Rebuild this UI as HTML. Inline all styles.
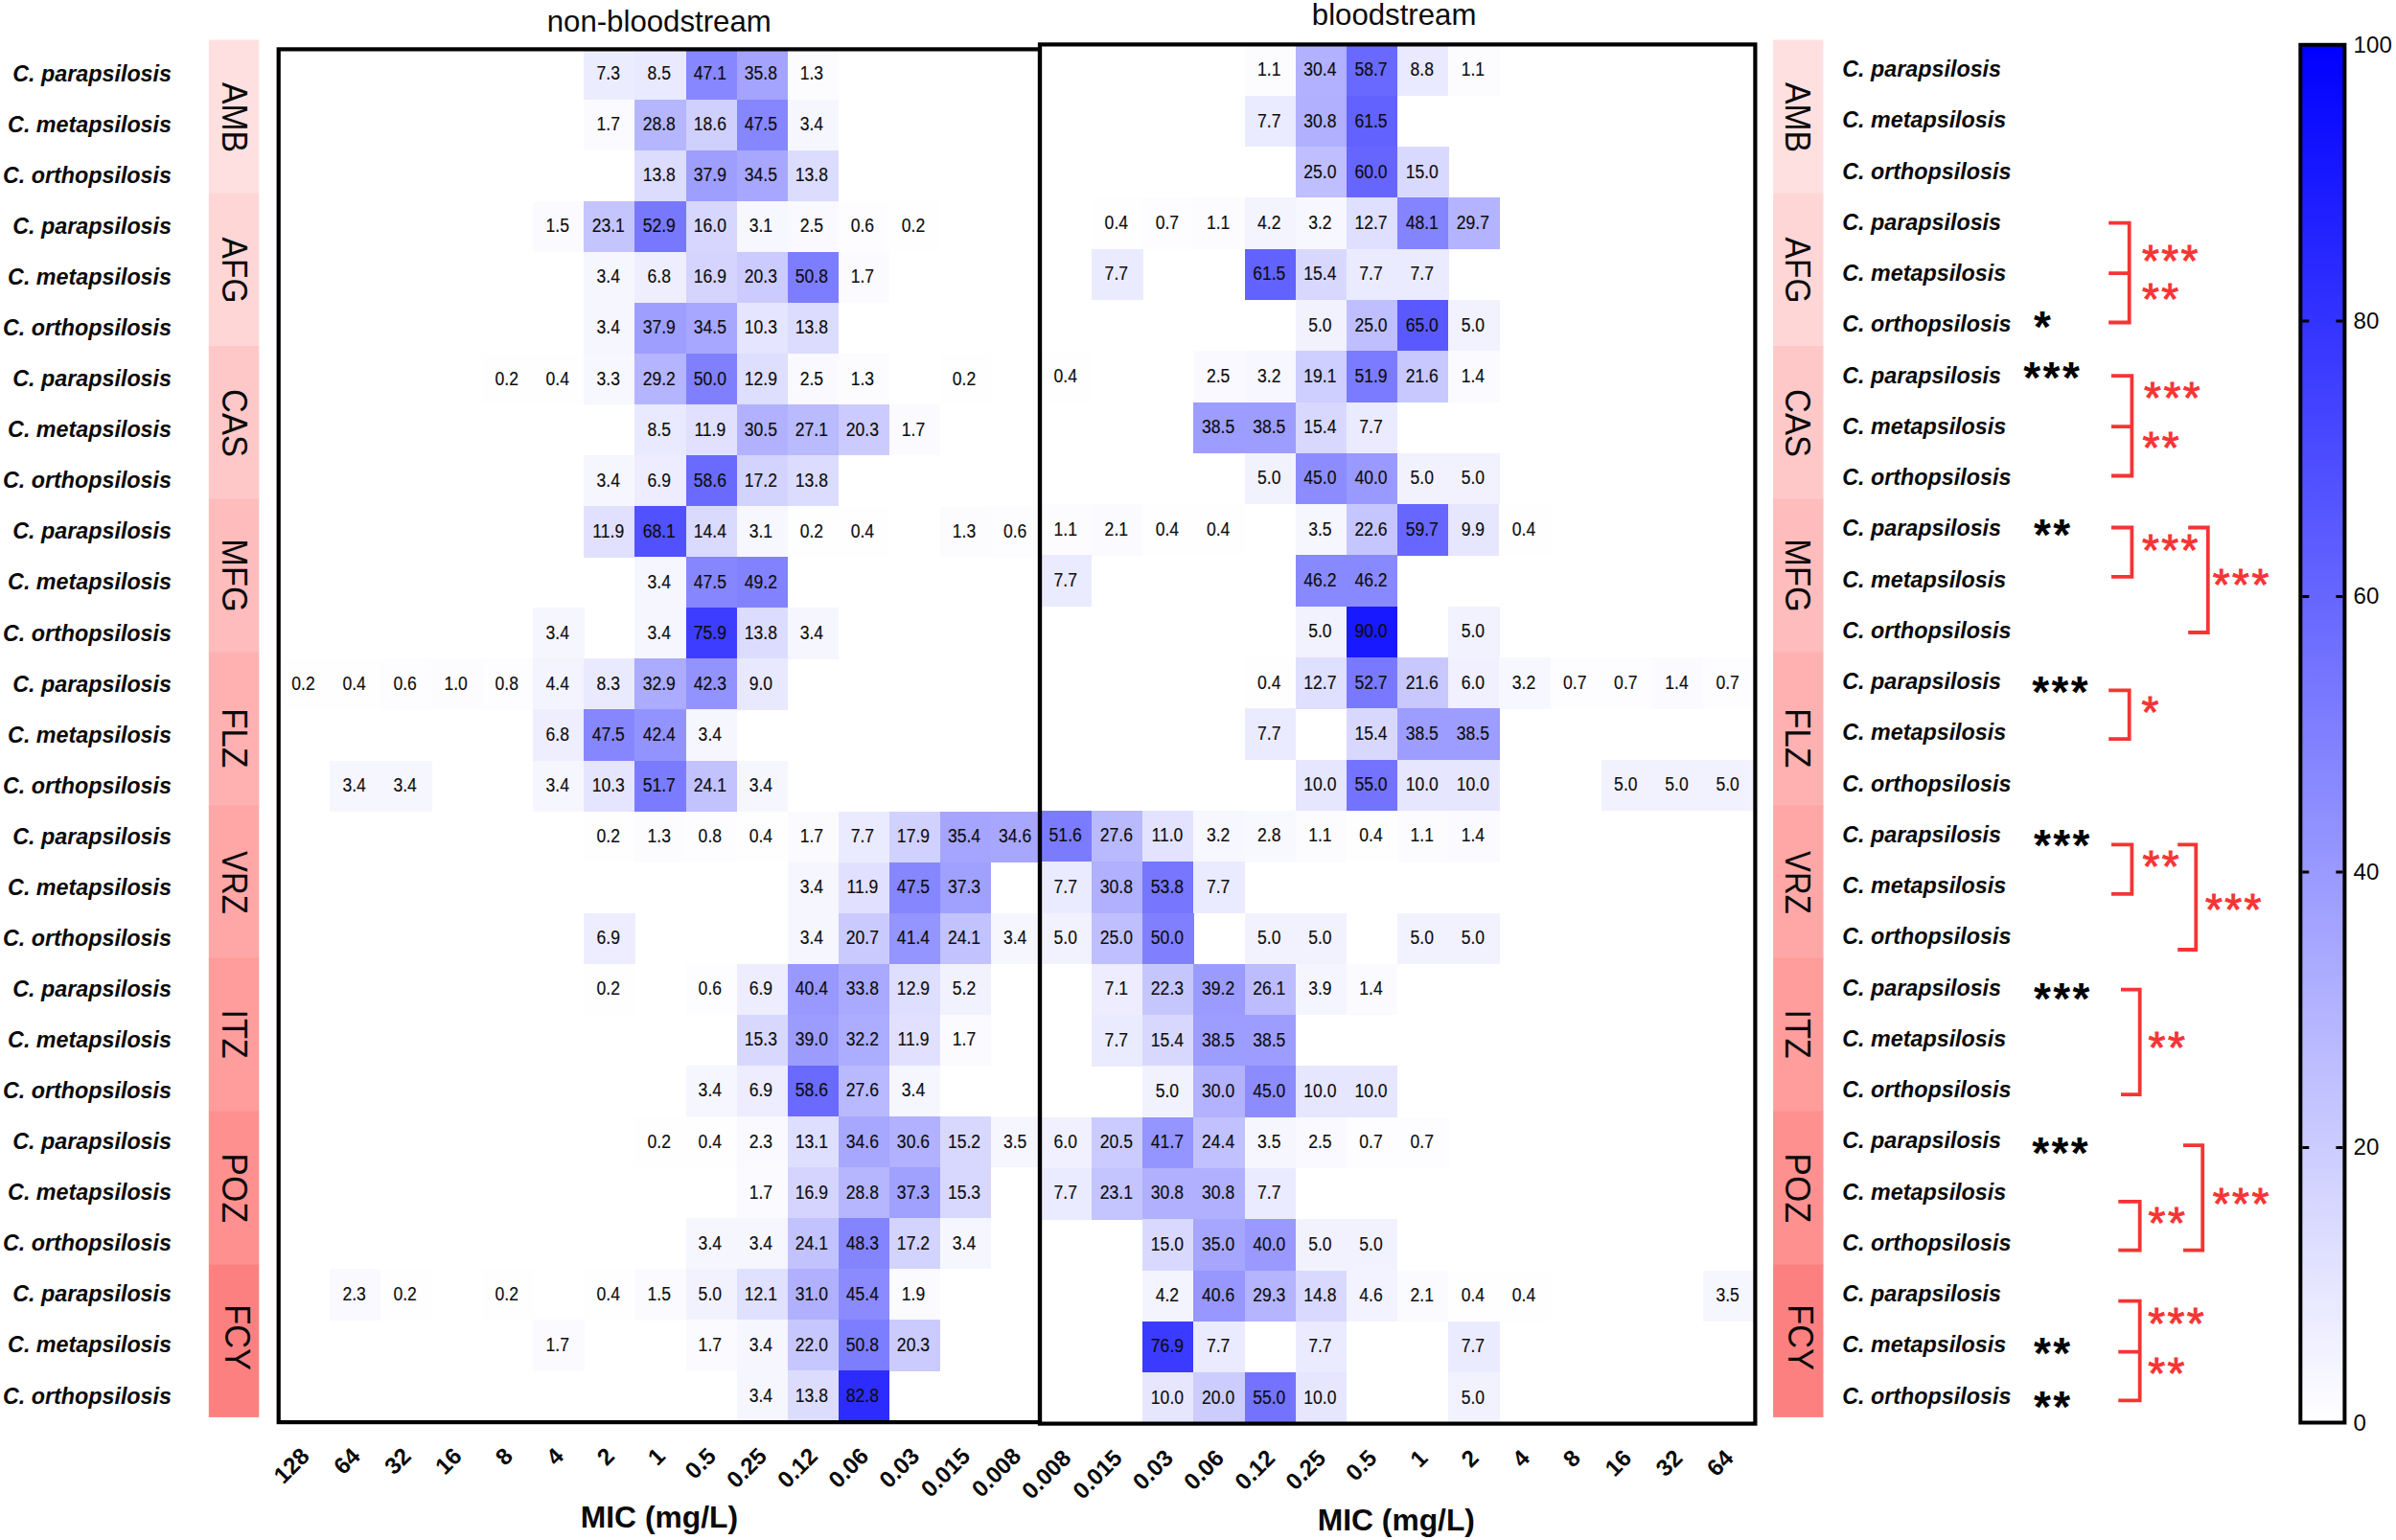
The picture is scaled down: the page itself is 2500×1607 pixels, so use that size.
<!DOCTYPE html>
<html lang="en"><head><meta charset="utf-8"><title>MIC distribution heatmap</title>
<style>
html,body{margin:0;padding:0;background:#fff;}
body{width:2500px;height:1607px;overflow:hidden;}
svg{display:block;font-family:"Liberation Sans",sans-serif;}
.c{font-size:19.4px;text-anchor:middle;fill:#0c0c0c;stroke:#0c0c0c;stroke-width:0.15;}
.sp{font-size:23.3px;font-weight:bold;font-style:italic;fill:#0a0a0a;}
.tk{font-size:24.2px;font-weight:bold;text-anchor:end;fill:#0a0a0a;}
.dr{font-size:36.3px;fill:#0a0a0a;}
.ba{font-size:46px;font-weight:bold;fill:#000;letter-spacing:2.4px;}
.ra{font-size:46px;fill:#f53434;stroke:#f53434;stroke-width:0.9;letter-spacing:2.4px;}
.br{fill:none;stroke:#f53434;stroke-width:3.8;}
.cb{font-size:24.1px;fill:#0a0a0a;}
.ti{font-size:31.2px;fill:#0a0a0a;}
.ax{font-size:31.8px;font-weight:bold;fill:#0a0a0a;}
</style></head><body>
<svg width="2500" height="1607" viewBox="0 0 2500 1607">
<defs><linearGradient id="cbg" x1="0" y1="0" x2="0" y2="1"><stop offset="0" stop-color="#0000ff"/><stop offset="1" stop-color="#ffffff"/></linearGradient></defs>
<rect width="2500" height="1607" fill="#fff"/>
<g>
<rect x="217.8" y="41.6" width="52.5" height="160.2" fill="#ffe0e0"/>
<rect x="217.8" y="201.3" width="52.5" height="160.2" fill="#ffd6d6"/>
<rect x="217.8" y="361.0" width="52.5" height="160.2" fill="#ffc8c8"/>
<rect x="217.8" y="520.7" width="52.5" height="160.2" fill="#ffbcbc"/>
<rect x="217.8" y="680.4" width="52.5" height="160.2" fill="#ffb0b0"/>
<rect x="217.8" y="840.1" width="52.5" height="160.2" fill="#ffa6a6"/>
<rect x="217.8" y="999.8" width="52.5" height="160.2" fill="#ff9c9c"/>
<rect x="217.8" y="1159.5" width="52.5" height="160.2" fill="#ff9090"/>
<rect x="217.8" y="1319.2" width="52.5" height="159.7" fill="#fd8080"/>
</g>
<text class="dr" transform="translate(231.8,86.1) rotate(90) scale(0.927,1)">AMB</text>
<text class="dr" transform="translate(231.8,247.6) rotate(90) scale(0.923,1)">AFG</text>
<text class="dr" transform="translate(231.8,406.0) rotate(90) scale(0.950,1)">CAS</text>
<text class="dr" transform="translate(231.8,562.2) rotate(90) scale(0.949,1)">MFG</text>
<text class="dr" transform="translate(231.8,739.2) rotate(90) scale(0.961,1)">FLZ</text>
<text class="dr" transform="translate(231.8,888.0) rotate(90) scale(0.906,1)">VRZ</text>
<text class="dr" transform="translate(231.8,1053.4) rotate(90) scale(0.943,1)">ITZ</text>
<text class="dr" transform="translate(231.8,1203.3) rotate(90) scale(0.974,1)">POZ</text>
<text class="dr" transform="translate(234.7,1361.2) rotate(90) scale(0.949,1)">FCY</text>
<g>
<rect x="1850.1" y="41.6" width="52.4" height="160.2" fill="#ffe0e0"/>
<rect x="1850.1" y="201.3" width="52.4" height="160.2" fill="#ffd6d6"/>
<rect x="1850.1" y="361.0" width="52.4" height="160.2" fill="#ffc8c8"/>
<rect x="1850.1" y="520.7" width="52.4" height="160.2" fill="#ffbcbc"/>
<rect x="1850.1" y="680.4" width="52.4" height="160.2" fill="#ffb0b0"/>
<rect x="1850.1" y="840.1" width="52.4" height="160.2" fill="#ffa6a6"/>
<rect x="1850.1" y="999.8" width="52.4" height="160.2" fill="#ff9c9c"/>
<rect x="1850.1" y="1159.5" width="52.4" height="160.2" fill="#ff9090"/>
<rect x="1850.1" y="1319.2" width="52.4" height="159.7" fill="#fd8080"/>
</g>
<text class="dr" transform="translate(1863.3,86.1) rotate(90) scale(0.927,1)">AMB</text>
<text class="dr" transform="translate(1863.3,247.6) rotate(90) scale(0.923,1)">AFG</text>
<text class="dr" transform="translate(1863.3,406.0) rotate(90) scale(0.950,1)">CAS</text>
<text class="dr" transform="translate(1863.3,562.2) rotate(90) scale(0.949,1)">MFG</text>
<text class="dr" transform="translate(1863.3,739.2) rotate(90) scale(0.961,1)">FLZ</text>
<text class="dr" transform="translate(1863.3,888.0) rotate(90) scale(0.906,1)">VRZ</text>
<text class="dr" transform="translate(1863.3,1053.4) rotate(90) scale(0.943,1)">ITZ</text>
<text class="dr" transform="translate(1863.3,1203.3) rotate(90) scale(0.974,1)">POZ</text>
<text class="dr" transform="translate(1866.3,1361.2) rotate(90) scale(0.949,1)">FCY</text>
<g shape-rendering="crispEdges">
<rect x="609.44" y="50.60" width="53.34" height="53.36" fill="#ececff"/>
<rect x="662.48" y="50.60" width="53.34" height="53.36" fill="#e9e9ff"/>
<rect x="715.52" y="50.60" width="53.34" height="53.36" fill="#8787ff"/>
<rect x="768.56" y="50.60" width="53.34" height="53.36" fill="#a4a4ff"/>
<rect x="821.60" y="50.60" width="53.34" height="53.36" fill="#fcfcff"/>
<rect x="609.44" y="103.66" width="53.34" height="53.36" fill="#fbfbff"/>
<rect x="662.48" y="103.66" width="53.34" height="53.36" fill="#b6b6ff"/>
<rect x="715.52" y="103.66" width="53.34" height="53.36" fill="#d0d0ff"/>
<rect x="768.56" y="103.66" width="53.34" height="53.36" fill="#8686ff"/>
<rect x="821.60" y="103.66" width="53.34" height="53.36" fill="#f6f6ff"/>
<rect x="662.48" y="156.73" width="53.34" height="53.36" fill="#dcdcff"/>
<rect x="715.52" y="156.73" width="53.34" height="53.36" fill="#9e9eff"/>
<rect x="768.56" y="156.73" width="53.34" height="53.36" fill="#a7a7ff"/>
<rect x="821.60" y="156.73" width="53.34" height="53.36" fill="#dcdcff"/>
<rect x="556.40" y="209.79" width="53.34" height="53.36" fill="#fbfbff"/>
<rect x="609.44" y="209.79" width="53.34" height="53.36" fill="#c4c4ff"/>
<rect x="662.48" y="209.79" width="53.34" height="53.36" fill="#7878ff"/>
<rect x="715.52" y="209.79" width="53.34" height="53.36" fill="#d6d6ff"/>
<rect x="768.56" y="209.79" width="53.34" height="53.36" fill="#f7f7ff"/>
<rect x="821.60" y="209.79" width="53.34" height="53.36" fill="#f9f9ff"/>
<rect x="874.64" y="209.79" width="53.34" height="53.36" fill="#fdfdff"/>
<rect x="927.68" y="209.79" width="53.34" height="53.36" fill="#fefeff"/>
<rect x="609.44" y="262.86" width="53.34" height="53.36" fill="#f6f6ff"/>
<rect x="662.48" y="262.86" width="53.34" height="53.36" fill="#eeeeff"/>
<rect x="715.52" y="262.86" width="53.34" height="53.36" fill="#d4d4ff"/>
<rect x="768.56" y="262.86" width="53.34" height="53.36" fill="#cbcbff"/>
<rect x="821.60" y="262.86" width="53.34" height="53.36" fill="#7d7dff"/>
<rect x="874.64" y="262.86" width="53.34" height="53.36" fill="#fbfbff"/>
<rect x="609.44" y="315.92" width="53.34" height="53.36" fill="#f6f6ff"/>
<rect x="662.48" y="315.92" width="53.34" height="53.36" fill="#9e9eff"/>
<rect x="715.52" y="315.92" width="53.34" height="53.36" fill="#a7a7ff"/>
<rect x="768.56" y="315.92" width="53.34" height="53.36" fill="#e5e5ff"/>
<rect x="821.60" y="315.92" width="53.34" height="53.36" fill="#dcdcff"/>
<rect x="503.36" y="368.98" width="53.34" height="53.36" fill="#fefeff"/>
<rect x="556.40" y="368.98" width="53.34" height="53.36" fill="#fefeff"/>
<rect x="609.44" y="368.98" width="53.34" height="53.36" fill="#f7f7ff"/>
<rect x="662.48" y="368.98" width="53.34" height="53.36" fill="#b5b5ff"/>
<rect x="715.52" y="368.98" width="53.34" height="53.36" fill="#8080ff"/>
<rect x="768.56" y="368.98" width="53.34" height="53.36" fill="#dedeff"/>
<rect x="821.60" y="368.98" width="53.34" height="53.36" fill="#f9f9ff"/>
<rect x="874.64" y="368.98" width="53.34" height="53.36" fill="#fcfcff"/>
<rect x="980.72" y="368.98" width="53.34" height="53.36" fill="#fefeff"/>
<rect x="662.48" y="422.05" width="53.34" height="53.36" fill="#e9e9ff"/>
<rect x="715.52" y="422.05" width="53.34" height="53.36" fill="#e1e1ff"/>
<rect x="768.56" y="422.05" width="53.34" height="53.36" fill="#b1b1ff"/>
<rect x="821.60" y="422.05" width="53.34" height="53.36" fill="#babaff"/>
<rect x="874.64" y="422.05" width="53.34" height="53.36" fill="#cbcbff"/>
<rect x="927.68" y="422.05" width="53.34" height="53.36" fill="#fbfbff"/>
<rect x="609.44" y="475.11" width="53.34" height="53.36" fill="#f6f6ff"/>
<rect x="662.48" y="475.11" width="53.34" height="53.36" fill="#ededff"/>
<rect x="715.52" y="475.11" width="53.34" height="53.36" fill="#6a6aff"/>
<rect x="768.56" y="475.11" width="53.34" height="53.36" fill="#d3d3ff"/>
<rect x="821.60" y="475.11" width="53.34" height="53.36" fill="#dcdcff"/>
<rect x="609.44" y="528.18" width="53.34" height="53.36" fill="#e1e1ff"/>
<rect x="662.48" y="528.18" width="53.34" height="53.36" fill="#5151ff"/>
<rect x="715.52" y="528.18" width="53.34" height="53.36" fill="#dadaff"/>
<rect x="768.56" y="528.18" width="53.34" height="53.36" fill="#f7f7ff"/>
<rect x="821.60" y="528.18" width="53.34" height="53.36" fill="#fefeff"/>
<rect x="874.64" y="528.18" width="53.34" height="53.36" fill="#fefeff"/>
<rect x="980.72" y="528.18" width="53.34" height="53.36" fill="#fcfcff"/>
<rect x="1033.76" y="528.18" width="53.34" height="53.36" fill="#fdfdff"/>
<rect x="662.48" y="581.24" width="53.34" height="53.36" fill="#f6f6ff"/>
<rect x="715.52" y="581.24" width="53.34" height="53.36" fill="#8686ff"/>
<rect x="768.56" y="581.24" width="53.34" height="53.36" fill="#8282ff"/>
<rect x="556.40" y="634.30" width="53.34" height="53.36" fill="#f6f6ff"/>
<rect x="662.48" y="634.30" width="53.34" height="53.36" fill="#f6f6ff"/>
<rect x="715.52" y="634.30" width="53.34" height="53.36" fill="#3d3dff"/>
<rect x="768.56" y="634.30" width="53.34" height="53.36" fill="#dcdcff"/>
<rect x="821.60" y="634.30" width="53.34" height="53.36" fill="#f6f6ff"/>
<rect x="291.20" y="687.37" width="53.34" height="53.36" fill="#fefeff"/>
<rect x="344.24" y="687.37" width="53.34" height="53.36" fill="#fefeff"/>
<rect x="397.28" y="687.37" width="53.34" height="53.36" fill="#fdfdff"/>
<rect x="450.32" y="687.37" width="53.34" height="53.36" fill="#fcfcff"/>
<rect x="503.36" y="687.37" width="53.34" height="53.36" fill="#fdfdff"/>
<rect x="556.40" y="687.37" width="53.34" height="53.36" fill="#f4f4ff"/>
<rect x="609.44" y="687.37" width="53.34" height="53.36" fill="#eaeaff"/>
<rect x="662.48" y="687.37" width="53.34" height="53.36" fill="#ababff"/>
<rect x="715.52" y="687.37" width="53.34" height="53.36" fill="#9393ff"/>
<rect x="768.56" y="687.37" width="53.34" height="53.36" fill="#e8e8ff"/>
<rect x="556.40" y="740.43" width="53.34" height="53.36" fill="#eeeeff"/>
<rect x="609.44" y="740.43" width="53.34" height="53.36" fill="#8686ff"/>
<rect x="662.48" y="740.43" width="53.34" height="53.36" fill="#9393ff"/>
<rect x="715.52" y="740.43" width="53.34" height="53.36" fill="#f6f6ff"/>
<rect x="344.24" y="793.50" width="53.34" height="53.36" fill="#f6f6ff"/>
<rect x="397.28" y="793.50" width="53.34" height="53.36" fill="#f6f6ff"/>
<rect x="556.40" y="793.50" width="53.34" height="53.36" fill="#f6f6ff"/>
<rect x="609.44" y="793.50" width="53.34" height="53.36" fill="#e5e5ff"/>
<rect x="662.48" y="793.50" width="53.34" height="53.36" fill="#7b7bff"/>
<rect x="715.52" y="793.50" width="53.34" height="53.36" fill="#c2c2ff"/>
<rect x="768.56" y="793.50" width="53.34" height="53.36" fill="#f6f6ff"/>
<rect x="609.44" y="846.56" width="53.34" height="53.36" fill="#fefeff"/>
<rect x="662.48" y="846.56" width="53.34" height="53.36" fill="#fcfcff"/>
<rect x="715.52" y="846.56" width="53.34" height="53.36" fill="#fdfdff"/>
<rect x="768.56" y="846.56" width="53.34" height="53.36" fill="#fefeff"/>
<rect x="821.60" y="846.56" width="53.34" height="53.36" fill="#fbfbff"/>
<rect x="874.64" y="846.56" width="53.34" height="53.36" fill="#ebebff"/>
<rect x="927.68" y="846.56" width="53.34" height="53.36" fill="#d1d1ff"/>
<rect x="980.72" y="846.56" width="53.34" height="53.36" fill="#a5a5ff"/>
<rect x="1033.76" y="846.56" width="53.34" height="53.36" fill="#a7a7ff"/>
<rect x="821.60" y="899.62" width="53.34" height="53.36" fill="#f6f6ff"/>
<rect x="874.64" y="899.62" width="53.34" height="53.36" fill="#e1e1ff"/>
<rect x="927.68" y="899.62" width="53.34" height="53.36" fill="#8686ff"/>
<rect x="980.72" y="899.62" width="53.34" height="53.36" fill="#a0a0ff"/>
<rect x="609.44" y="952.69" width="53.34" height="53.36" fill="#ededff"/>
<rect x="821.60" y="952.69" width="53.34" height="53.36" fill="#f6f6ff"/>
<rect x="874.64" y="952.69" width="53.34" height="53.36" fill="#cacaff"/>
<rect x="927.68" y="952.69" width="53.34" height="53.36" fill="#9595ff"/>
<rect x="980.72" y="952.69" width="53.34" height="53.36" fill="#c2c2ff"/>
<rect x="1033.76" y="952.69" width="53.34" height="53.36" fill="#f6f6ff"/>
<rect x="609.44" y="1005.75" width="53.34" height="53.36" fill="#fefeff"/>
<rect x="715.52" y="1005.75" width="53.34" height="53.36" fill="#fdfdff"/>
<rect x="768.56" y="1005.75" width="53.34" height="53.36" fill="#ededff"/>
<rect x="821.60" y="1005.75" width="53.34" height="53.36" fill="#9898ff"/>
<rect x="874.64" y="1005.75" width="53.34" height="53.36" fill="#a9a9ff"/>
<rect x="927.68" y="1005.75" width="53.34" height="53.36" fill="#dedeff"/>
<rect x="980.72" y="1005.75" width="53.34" height="53.36" fill="#f2f2ff"/>
<rect x="768.56" y="1058.82" width="53.34" height="53.36" fill="#d8d8ff"/>
<rect x="821.60" y="1058.82" width="53.34" height="53.36" fill="#9c9cff"/>
<rect x="874.64" y="1058.82" width="53.34" height="53.36" fill="#adadff"/>
<rect x="927.68" y="1058.82" width="53.34" height="53.36" fill="#e1e1ff"/>
<rect x="980.72" y="1058.82" width="53.34" height="53.36" fill="#fbfbff"/>
<rect x="715.52" y="1111.88" width="53.34" height="53.36" fill="#f6f6ff"/>
<rect x="768.56" y="1111.88" width="53.34" height="53.36" fill="#ededff"/>
<rect x="821.60" y="1111.88" width="53.34" height="53.36" fill="#6a6aff"/>
<rect x="874.64" y="1111.88" width="53.34" height="53.36" fill="#b9b9ff"/>
<rect x="927.68" y="1111.88" width="53.34" height="53.36" fill="#f6f6ff"/>
<rect x="662.48" y="1164.94" width="53.34" height="53.36" fill="#fefeff"/>
<rect x="715.52" y="1164.94" width="53.34" height="53.36" fill="#fefeff"/>
<rect x="768.56" y="1164.94" width="53.34" height="53.36" fill="#f9f9ff"/>
<rect x="821.60" y="1164.94" width="53.34" height="53.36" fill="#dedeff"/>
<rect x="874.64" y="1164.94" width="53.34" height="53.36" fill="#a7a7ff"/>
<rect x="927.68" y="1164.94" width="53.34" height="53.36" fill="#b1b1ff"/>
<rect x="980.72" y="1164.94" width="53.34" height="53.36" fill="#d8d8ff"/>
<rect x="1033.76" y="1164.94" width="53.34" height="53.36" fill="#f6f6ff"/>
<rect x="768.56" y="1218.01" width="53.34" height="53.36" fill="#fbfbff"/>
<rect x="821.60" y="1218.01" width="53.34" height="53.36" fill="#d4d4ff"/>
<rect x="874.64" y="1218.01" width="53.34" height="53.36" fill="#b6b6ff"/>
<rect x="927.68" y="1218.01" width="53.34" height="53.36" fill="#a0a0ff"/>
<rect x="980.72" y="1218.01" width="53.34" height="53.36" fill="#d8d8ff"/>
<rect x="715.52" y="1271.07" width="53.34" height="53.36" fill="#f6f6ff"/>
<rect x="768.56" y="1271.07" width="53.34" height="53.36" fill="#f6f6ff"/>
<rect x="821.60" y="1271.07" width="53.34" height="53.36" fill="#c2c2ff"/>
<rect x="874.64" y="1271.07" width="53.34" height="53.36" fill="#8484ff"/>
<rect x="927.68" y="1271.07" width="53.34" height="53.36" fill="#d3d3ff"/>
<rect x="980.72" y="1271.07" width="53.34" height="53.36" fill="#f6f6ff"/>
<rect x="344.24" y="1324.14" width="53.34" height="53.36" fill="#f9f9ff"/>
<rect x="397.28" y="1324.14" width="53.34" height="53.36" fill="#fefeff"/>
<rect x="503.36" y="1324.14" width="53.34" height="53.36" fill="#fefeff"/>
<rect x="609.44" y="1324.14" width="53.34" height="53.36" fill="#fefeff"/>
<rect x="662.48" y="1324.14" width="53.34" height="53.36" fill="#fbfbff"/>
<rect x="715.52" y="1324.14" width="53.34" height="53.36" fill="#f2f2ff"/>
<rect x="768.56" y="1324.14" width="53.34" height="53.36" fill="#e0e0ff"/>
<rect x="821.60" y="1324.14" width="53.34" height="53.36" fill="#b0b0ff"/>
<rect x="874.64" y="1324.14" width="53.34" height="53.36" fill="#8b8bff"/>
<rect x="927.68" y="1324.14" width="53.34" height="53.36" fill="#fafaff"/>
<rect x="556.40" y="1377.20" width="53.34" height="53.36" fill="#fbfbff"/>
<rect x="715.52" y="1377.20" width="53.34" height="53.36" fill="#fbfbff"/>
<rect x="768.56" y="1377.20" width="53.34" height="53.36" fill="#f6f6ff"/>
<rect x="821.60" y="1377.20" width="53.34" height="53.36" fill="#c7c7ff"/>
<rect x="874.64" y="1377.20" width="53.34" height="53.36" fill="#7d7dff"/>
<rect x="927.68" y="1377.20" width="53.34" height="53.36" fill="#cbcbff"/>
<rect x="768.56" y="1430.26" width="53.34" height="53.36" fill="#f6f6ff"/>
<rect x="821.60" y="1430.26" width="53.34" height="53.36" fill="#dcdcff"/>
<rect x="874.64" y="1430.26" width="53.34" height="53.36" fill="#2c2cff"/>
</g>
<g class="c" transform="scale(0.905,1)">
<text x="701.4" y="83.2">7.3</text>
<text x="760.0" y="83.2">8.5</text>
<text x="818.6" y="83.2">47.1</text>
<text x="877.2" y="83.2">35.8</text>
<text x="935.8" y="83.2">1.3</text>
<text x="701.4" y="136.3">1.7</text>
<text x="760.0" y="136.3">28.8</text>
<text x="818.6" y="136.3">18.6</text>
<text x="877.2" y="136.3">47.5</text>
<text x="935.8" y="136.3">3.4</text>
<text x="760.0" y="189.3">13.8</text>
<text x="818.6" y="189.3">37.9</text>
<text x="877.2" y="189.3">34.5</text>
<text x="935.8" y="189.3">13.8</text>
<text x="642.8" y="242.4">1.5</text>
<text x="701.4" y="242.4">23.1</text>
<text x="760.0" y="242.4">52.9</text>
<text x="818.6" y="242.4">16.0</text>
<text x="877.2" y="242.4">3.1</text>
<text x="935.8" y="242.4">2.5</text>
<text x="994.4" y="242.4">0.6</text>
<text x="1053.0" y="242.4">0.2</text>
<text x="701.4" y="295.5">3.4</text>
<text x="760.0" y="295.5">6.8</text>
<text x="818.6" y="295.5">16.9</text>
<text x="877.2" y="295.5">20.3</text>
<text x="935.8" y="295.5">50.8</text>
<text x="994.4" y="295.5">1.7</text>
<text x="701.4" y="348.5">3.4</text>
<text x="760.0" y="348.5">37.9</text>
<text x="818.6" y="348.5">34.5</text>
<text x="877.2" y="348.5">10.3</text>
<text x="935.8" y="348.5">13.8</text>
<text x="584.2" y="401.6">0.2</text>
<text x="642.8" y="401.6">0.4</text>
<text x="701.4" y="401.6">3.3</text>
<text x="760.0" y="401.6">29.2</text>
<text x="818.6" y="401.6">50.0</text>
<text x="877.2" y="401.6">12.9</text>
<text x="935.8" y="401.6">2.5</text>
<text x="994.4" y="401.6">1.3</text>
<text x="1111.6" y="401.6">0.2</text>
<text x="760.0" y="454.7">8.5</text>
<text x="818.6" y="454.7">11.9</text>
<text x="877.2" y="454.7">30.5</text>
<text x="935.8" y="454.7">27.1</text>
<text x="994.4" y="454.7">20.3</text>
<text x="1053.0" y="454.7">1.7</text>
<text x="701.4" y="507.7">3.4</text>
<text x="760.0" y="507.7">6.9</text>
<text x="818.6" y="507.7">58.6</text>
<text x="877.2" y="507.7">17.2</text>
<text x="935.8" y="507.7">13.8</text>
<text x="701.4" y="560.8">11.9</text>
<text x="760.0" y="560.8">68.1</text>
<text x="818.6" y="560.8">14.4</text>
<text x="877.2" y="560.8">3.1</text>
<text x="935.8" y="560.8">0.2</text>
<text x="994.4" y="560.8">0.4</text>
<text x="1111.6" y="560.8">1.3</text>
<text x="1170.3" y="560.8">0.6</text>
<text x="760.0" y="613.9">3.4</text>
<text x="818.6" y="613.9">47.5</text>
<text x="877.2" y="613.9">49.2</text>
<text x="642.8" y="666.9">3.4</text>
<text x="760.0" y="666.9">3.4</text>
<text x="818.6" y="666.9">75.9</text>
<text x="877.2" y="666.9">13.8</text>
<text x="935.8" y="666.9">3.4</text>
<text x="349.7" y="720.0">0.2</text>
<text x="408.4" y="720.0">0.4</text>
<text x="467.0" y="720.0">0.6</text>
<text x="525.6" y="720.0">1.0</text>
<text x="584.2" y="720.0">0.8</text>
<text x="642.8" y="720.0">4.4</text>
<text x="701.4" y="720.0">8.3</text>
<text x="760.0" y="720.0">32.9</text>
<text x="818.6" y="720.0">42.3</text>
<text x="877.2" y="720.0">9.0</text>
<text x="642.8" y="773.0">6.8</text>
<text x="701.4" y="773.0">47.5</text>
<text x="760.0" y="773.0">42.4</text>
<text x="818.6" y="773.0">3.4</text>
<text x="408.4" y="826.1">3.4</text>
<text x="467.0" y="826.1">3.4</text>
<text x="642.8" y="826.1">3.4</text>
<text x="701.4" y="826.1">10.3</text>
<text x="760.0" y="826.1">51.7</text>
<text x="818.6" y="826.1">24.1</text>
<text x="877.2" y="826.1">3.4</text>
<text x="701.4" y="879.2">0.2</text>
<text x="760.0" y="879.2">1.3</text>
<text x="818.6" y="879.2">0.8</text>
<text x="877.2" y="879.2">0.4</text>
<text x="935.8" y="879.2">1.7</text>
<text x="994.4" y="879.2">7.7</text>
<text x="1053.0" y="879.2">17.9</text>
<text x="1111.6" y="879.2">35.4</text>
<text x="1170.3" y="879.2">34.6</text>
<text x="935.8" y="932.2">3.4</text>
<text x="994.4" y="932.2">11.9</text>
<text x="1053.0" y="932.2">47.5</text>
<text x="1111.6" y="932.2">37.3</text>
<text x="701.4" y="985.3">6.9</text>
<text x="935.8" y="985.3">3.4</text>
<text x="994.4" y="985.3">20.7</text>
<text x="1053.0" y="985.3">41.4</text>
<text x="1111.6" y="985.3">24.1</text>
<text x="1170.3" y="985.3">3.4</text>
<text x="701.4" y="1038.4">0.2</text>
<text x="818.6" y="1038.4">0.6</text>
<text x="877.2" y="1038.4">6.9</text>
<text x="935.8" y="1038.4">40.4</text>
<text x="994.4" y="1038.4">33.8</text>
<text x="1053.0" y="1038.4">12.9</text>
<text x="1111.6" y="1038.4">5.2</text>
<text x="877.2" y="1091.4">15.3</text>
<text x="935.8" y="1091.4">39.0</text>
<text x="994.4" y="1091.4">32.2</text>
<text x="1053.0" y="1091.4">11.9</text>
<text x="1111.6" y="1091.4">1.7</text>
<text x="818.6" y="1144.5">3.4</text>
<text x="877.2" y="1144.5">6.9</text>
<text x="935.8" y="1144.5">58.6</text>
<text x="994.4" y="1144.5">27.6</text>
<text x="1053.0" y="1144.5">3.4</text>
<text x="760.0" y="1197.6">0.2</text>
<text x="818.6" y="1197.6">0.4</text>
<text x="877.2" y="1197.6">2.3</text>
<text x="935.8" y="1197.6">13.1</text>
<text x="994.4" y="1197.6">34.6</text>
<text x="1053.0" y="1197.6">30.6</text>
<text x="1111.6" y="1197.6">15.2</text>
<text x="1170.3" y="1197.6">3.5</text>
<text x="877.2" y="1250.6">1.7</text>
<text x="935.8" y="1250.6">16.9</text>
<text x="994.4" y="1250.6">28.8</text>
<text x="1053.0" y="1250.6">37.3</text>
<text x="1111.6" y="1250.6">15.3</text>
<text x="818.6" y="1303.7">3.4</text>
<text x="877.2" y="1303.7">3.4</text>
<text x="935.8" y="1303.7">24.1</text>
<text x="994.4" y="1303.7">48.3</text>
<text x="1053.0" y="1303.7">17.2</text>
<text x="1111.6" y="1303.7">3.4</text>
<text x="408.4" y="1356.8">2.3</text>
<text x="467.0" y="1356.8">0.2</text>
<text x="584.2" y="1356.8">0.2</text>
<text x="701.4" y="1356.8">0.4</text>
<text x="760.0" y="1356.8">1.5</text>
<text x="818.6" y="1356.8">5.0</text>
<text x="877.2" y="1356.8">12.1</text>
<text x="935.8" y="1356.8">31.0</text>
<text x="994.4" y="1356.8">45.4</text>
<text x="1053.0" y="1356.8">1.9</text>
<text x="642.8" y="1409.8">1.7</text>
<text x="818.6" y="1409.8">1.7</text>
<text x="877.2" y="1409.8">3.4</text>
<text x="935.8" y="1409.8">22.0</text>
<text x="994.4" y="1409.8">50.8</text>
<text x="1053.0" y="1409.8">20.3</text>
<text x="877.2" y="1462.9">3.4</text>
<text x="935.8" y="1462.9">13.8</text>
<text x="994.4" y="1462.9">82.8</text>
</g>
<g shape-rendering="crispEdges">
<rect x="1298.60" y="46.40" width="53.45" height="53.60" fill="#fcfcff"/>
<rect x="1351.75" y="46.40" width="53.45" height="53.60" fill="#b1b1ff"/>
<rect x="1404.90" y="46.40" width="53.45" height="53.60" fill="#6969ff"/>
<rect x="1458.05" y="46.40" width="53.45" height="53.60" fill="#e9e9ff"/>
<rect x="1511.20" y="46.40" width="53.45" height="53.60" fill="#fcfcff"/>
<rect x="1298.60" y="99.70" width="53.45" height="53.60" fill="#ebebff"/>
<rect x="1351.75" y="99.70" width="53.45" height="53.60" fill="#b0b0ff"/>
<rect x="1404.90" y="99.70" width="53.45" height="53.60" fill="#6262ff"/>
<rect x="1351.75" y="153.00" width="53.45" height="53.60" fill="#bfbfff"/>
<rect x="1404.90" y="153.00" width="53.45" height="53.60" fill="#6666ff"/>
<rect x="1458.05" y="153.00" width="53.45" height="53.60" fill="#d9d9ff"/>
<rect x="1139.15" y="206.30" width="53.45" height="53.60" fill="#fefeff"/>
<rect x="1192.30" y="206.30" width="53.45" height="53.60" fill="#fdfdff"/>
<rect x="1245.45" y="206.30" width="53.45" height="53.60" fill="#fcfcff"/>
<rect x="1298.60" y="206.30" width="53.45" height="53.60" fill="#f4f4ff"/>
<rect x="1351.75" y="206.30" width="53.45" height="53.60" fill="#f7f7ff"/>
<rect x="1404.90" y="206.30" width="53.45" height="53.60" fill="#dfdfff"/>
<rect x="1458.05" y="206.30" width="53.45" height="53.60" fill="#8484ff"/>
<rect x="1511.20" y="206.30" width="53.45" height="53.60" fill="#b3b3ff"/>
<rect x="1139.15" y="259.60" width="53.45" height="53.60" fill="#ebebff"/>
<rect x="1298.60" y="259.60" width="53.45" height="53.60" fill="#6262ff"/>
<rect x="1351.75" y="259.60" width="53.45" height="53.60" fill="#d8d8ff"/>
<rect x="1404.90" y="259.60" width="53.45" height="53.60" fill="#ebebff"/>
<rect x="1458.05" y="259.60" width="53.45" height="53.60" fill="#ebebff"/>
<rect x="1351.75" y="312.90" width="53.45" height="53.60" fill="#f2f2ff"/>
<rect x="1404.90" y="312.90" width="53.45" height="53.60" fill="#bfbfff"/>
<rect x="1458.05" y="312.90" width="53.45" height="53.60" fill="#5959ff"/>
<rect x="1511.20" y="312.90" width="53.45" height="53.60" fill="#f2f2ff"/>
<rect x="1086.00" y="366.20" width="53.45" height="53.60" fill="#fefeff"/>
<rect x="1245.45" y="366.20" width="53.45" height="53.60" fill="#f9f9ff"/>
<rect x="1298.60" y="366.20" width="53.45" height="53.60" fill="#f7f7ff"/>
<rect x="1351.75" y="366.20" width="53.45" height="53.60" fill="#ceceff"/>
<rect x="1404.90" y="366.20" width="53.45" height="53.60" fill="#7b7bff"/>
<rect x="1458.05" y="366.20" width="53.45" height="53.60" fill="#c8c8ff"/>
<rect x="1511.20" y="366.20" width="53.45" height="53.60" fill="#fbfbff"/>
<rect x="1245.45" y="419.50" width="53.45" height="53.60" fill="#9d9dff"/>
<rect x="1298.60" y="419.50" width="53.45" height="53.60" fill="#9d9dff"/>
<rect x="1351.75" y="419.50" width="53.45" height="53.60" fill="#d8d8ff"/>
<rect x="1404.90" y="419.50" width="53.45" height="53.60" fill="#ebebff"/>
<rect x="1298.60" y="472.80" width="53.45" height="53.60" fill="#f2f2ff"/>
<rect x="1351.75" y="472.80" width="53.45" height="53.60" fill="#8c8cff"/>
<rect x="1404.90" y="472.80" width="53.45" height="53.60" fill="#9999ff"/>
<rect x="1458.05" y="472.80" width="53.45" height="53.60" fill="#f2f2ff"/>
<rect x="1511.20" y="472.80" width="53.45" height="53.60" fill="#f2f2ff"/>
<rect x="1086.00" y="526.10" width="53.45" height="53.60" fill="#fcfcff"/>
<rect x="1139.15" y="526.10" width="53.45" height="53.60" fill="#fafaff"/>
<rect x="1192.30" y="526.10" width="53.45" height="53.60" fill="#fefeff"/>
<rect x="1245.45" y="526.10" width="53.45" height="53.60" fill="#fefeff"/>
<rect x="1351.75" y="526.10" width="53.45" height="53.60" fill="#f6f6ff"/>
<rect x="1404.90" y="526.10" width="53.45" height="53.60" fill="#c5c5ff"/>
<rect x="1458.05" y="526.10" width="53.45" height="53.60" fill="#6767ff"/>
<rect x="1511.20" y="526.10" width="53.45" height="53.60" fill="#e6e6ff"/>
<rect x="1564.35" y="526.10" width="53.45" height="53.60" fill="#fefeff"/>
<rect x="1086.00" y="579.40" width="53.45" height="53.60" fill="#ebebff"/>
<rect x="1351.75" y="579.40" width="53.45" height="53.60" fill="#8989ff"/>
<rect x="1404.90" y="579.40" width="53.45" height="53.60" fill="#8989ff"/>
<rect x="1351.75" y="632.70" width="53.45" height="53.60" fill="#f2f2ff"/>
<rect x="1404.90" y="632.70" width="53.45" height="53.60" fill="#1919ff"/>
<rect x="1511.20" y="632.70" width="53.45" height="53.60" fill="#f2f2ff"/>
<rect x="1298.60" y="686.00" width="53.45" height="53.60" fill="#fefeff"/>
<rect x="1351.75" y="686.00" width="53.45" height="53.60" fill="#dfdfff"/>
<rect x="1404.90" y="686.00" width="53.45" height="53.60" fill="#7979ff"/>
<rect x="1458.05" y="686.00" width="53.45" height="53.60" fill="#c8c8ff"/>
<rect x="1511.20" y="686.00" width="53.45" height="53.60" fill="#f0f0ff"/>
<rect x="1564.35" y="686.00" width="53.45" height="53.60" fill="#f7f7ff"/>
<rect x="1617.50" y="686.00" width="53.45" height="53.60" fill="#fdfdff"/>
<rect x="1670.65" y="686.00" width="53.45" height="53.60" fill="#fdfdff"/>
<rect x="1723.80" y="686.00" width="53.45" height="53.60" fill="#fbfbff"/>
<rect x="1776.95" y="686.00" width="53.45" height="53.60" fill="#fdfdff"/>
<rect x="1298.60" y="739.30" width="53.45" height="53.60" fill="#ebebff"/>
<rect x="1404.90" y="739.30" width="53.45" height="53.60" fill="#d8d8ff"/>
<rect x="1458.05" y="739.30" width="53.45" height="53.60" fill="#9d9dff"/>
<rect x="1511.20" y="739.30" width="53.45" height="53.60" fill="#9d9dff"/>
<rect x="1351.75" y="792.60" width="53.45" height="53.60" fill="#e6e6ff"/>
<rect x="1404.90" y="792.60" width="53.45" height="53.60" fill="#7373ff"/>
<rect x="1458.05" y="792.60" width="53.45" height="53.60" fill="#e6e6ff"/>
<rect x="1511.20" y="792.60" width="53.45" height="53.60" fill="#e6e6ff"/>
<rect x="1670.65" y="792.60" width="53.45" height="53.60" fill="#f2f2ff"/>
<rect x="1723.80" y="792.60" width="53.45" height="53.60" fill="#f2f2ff"/>
<rect x="1776.95" y="792.60" width="53.45" height="53.60" fill="#f2f2ff"/>
<rect x="1086.00" y="845.90" width="53.45" height="53.60" fill="#7b7bff"/>
<rect x="1139.15" y="845.90" width="53.45" height="53.60" fill="#b9b9ff"/>
<rect x="1192.30" y="845.90" width="53.45" height="53.60" fill="#e3e3ff"/>
<rect x="1245.45" y="845.90" width="53.45" height="53.60" fill="#f7f7ff"/>
<rect x="1298.60" y="845.90" width="53.45" height="53.60" fill="#f8f8ff"/>
<rect x="1351.75" y="845.90" width="53.45" height="53.60" fill="#fcfcff"/>
<rect x="1404.90" y="845.90" width="53.45" height="53.60" fill="#fefeff"/>
<rect x="1458.05" y="845.90" width="53.45" height="53.60" fill="#fcfcff"/>
<rect x="1511.20" y="845.90" width="53.45" height="53.60" fill="#fbfbff"/>
<rect x="1086.00" y="899.20" width="53.45" height="53.60" fill="#ebebff"/>
<rect x="1139.15" y="899.20" width="53.45" height="53.60" fill="#b0b0ff"/>
<rect x="1192.30" y="899.20" width="53.45" height="53.60" fill="#7676ff"/>
<rect x="1245.45" y="899.20" width="53.45" height="53.60" fill="#ebebff"/>
<rect x="1086.00" y="952.50" width="53.45" height="53.60" fill="#f2f2ff"/>
<rect x="1139.15" y="952.50" width="53.45" height="53.60" fill="#bfbfff"/>
<rect x="1192.30" y="952.50" width="53.45" height="53.60" fill="#8080ff"/>
<rect x="1298.60" y="952.50" width="53.45" height="53.60" fill="#f2f2ff"/>
<rect x="1351.75" y="952.50" width="53.45" height="53.60" fill="#f2f2ff"/>
<rect x="1458.05" y="952.50" width="53.45" height="53.60" fill="#f2f2ff"/>
<rect x="1511.20" y="952.50" width="53.45" height="53.60" fill="#f2f2ff"/>
<rect x="1139.15" y="1005.80" width="53.45" height="53.60" fill="#ededff"/>
<rect x="1192.30" y="1005.80" width="53.45" height="53.60" fill="#c6c6ff"/>
<rect x="1245.45" y="1005.80" width="53.45" height="53.60" fill="#9b9bff"/>
<rect x="1298.60" y="1005.80" width="53.45" height="53.60" fill="#bcbcff"/>
<rect x="1351.75" y="1005.80" width="53.45" height="53.60" fill="#f5f5ff"/>
<rect x="1404.90" y="1005.80" width="53.45" height="53.60" fill="#fbfbff"/>
<rect x="1139.15" y="1059.10" width="53.45" height="53.60" fill="#ebebff"/>
<rect x="1192.30" y="1059.10" width="53.45" height="53.60" fill="#d8d8ff"/>
<rect x="1245.45" y="1059.10" width="53.45" height="53.60" fill="#9d9dff"/>
<rect x="1298.60" y="1059.10" width="53.45" height="53.60" fill="#9d9dff"/>
<rect x="1192.30" y="1112.40" width="53.45" height="53.60" fill="#f2f2ff"/>
<rect x="1245.45" y="1112.40" width="53.45" height="53.60" fill="#b2b2ff"/>
<rect x="1298.60" y="1112.40" width="53.45" height="53.60" fill="#8c8cff"/>
<rect x="1351.75" y="1112.40" width="53.45" height="53.60" fill="#e6e6ff"/>
<rect x="1404.90" y="1112.40" width="53.45" height="53.60" fill="#e6e6ff"/>
<rect x="1086.00" y="1165.70" width="53.45" height="53.60" fill="#f0f0ff"/>
<rect x="1139.15" y="1165.70" width="53.45" height="53.60" fill="#cbcbff"/>
<rect x="1192.30" y="1165.70" width="53.45" height="53.60" fill="#9595ff"/>
<rect x="1245.45" y="1165.70" width="53.45" height="53.60" fill="#c1c1ff"/>
<rect x="1298.60" y="1165.70" width="53.45" height="53.60" fill="#f6f6ff"/>
<rect x="1351.75" y="1165.70" width="53.45" height="53.60" fill="#f9f9ff"/>
<rect x="1404.90" y="1165.70" width="53.45" height="53.60" fill="#fdfdff"/>
<rect x="1458.05" y="1165.70" width="53.45" height="53.60" fill="#fdfdff"/>
<rect x="1086.00" y="1219.00" width="53.45" height="53.60" fill="#ebebff"/>
<rect x="1139.15" y="1219.00" width="53.45" height="53.60" fill="#c4c4ff"/>
<rect x="1192.30" y="1219.00" width="53.45" height="53.60" fill="#b0b0ff"/>
<rect x="1245.45" y="1219.00" width="53.45" height="53.60" fill="#b0b0ff"/>
<rect x="1298.60" y="1219.00" width="53.45" height="53.60" fill="#ebebff"/>
<rect x="1192.30" y="1272.30" width="53.45" height="53.60" fill="#d9d9ff"/>
<rect x="1245.45" y="1272.30" width="53.45" height="53.60" fill="#a6a6ff"/>
<rect x="1298.60" y="1272.30" width="53.45" height="53.60" fill="#9999ff"/>
<rect x="1351.75" y="1272.30" width="53.45" height="53.60" fill="#f2f2ff"/>
<rect x="1404.90" y="1272.30" width="53.45" height="53.60" fill="#f2f2ff"/>
<rect x="1192.30" y="1325.60" width="53.45" height="53.60" fill="#f4f4ff"/>
<rect x="1245.45" y="1325.60" width="53.45" height="53.60" fill="#9797ff"/>
<rect x="1298.60" y="1325.60" width="53.45" height="53.60" fill="#b4b4ff"/>
<rect x="1351.75" y="1325.60" width="53.45" height="53.60" fill="#d9d9ff"/>
<rect x="1404.90" y="1325.60" width="53.45" height="53.60" fill="#f3f3ff"/>
<rect x="1458.05" y="1325.60" width="53.45" height="53.60" fill="#fafaff"/>
<rect x="1511.20" y="1325.60" width="53.45" height="53.60" fill="#fefeff"/>
<rect x="1564.35" y="1325.60" width="53.45" height="53.60" fill="#fefeff"/>
<rect x="1776.95" y="1325.60" width="53.45" height="53.60" fill="#f6f6ff"/>
<rect x="1192.30" y="1378.90" width="53.45" height="53.60" fill="#3b3bff"/>
<rect x="1245.45" y="1378.90" width="53.45" height="53.60" fill="#ebebff"/>
<rect x="1351.75" y="1378.90" width="53.45" height="53.60" fill="#ebebff"/>
<rect x="1511.20" y="1378.90" width="53.45" height="53.60" fill="#ebebff"/>
<rect x="1192.30" y="1432.20" width="53.45" height="53.60" fill="#e6e6ff"/>
<rect x="1245.45" y="1432.20" width="53.45" height="53.60" fill="#ccccff"/>
<rect x="1298.60" y="1432.20" width="53.45" height="53.60" fill="#7373ff"/>
<rect x="1351.75" y="1432.20" width="53.45" height="53.60" fill="#e6e6ff"/>
<rect x="1511.20" y="1432.20" width="53.45" height="53.60" fill="#f2f2ff"/>
</g>
<g class="c" transform="scale(0.905,1)">
<text x="1463.3" y="79.3">1.1</text>
<text x="1522.0" y="79.3">30.4</text>
<text x="1580.7" y="79.3">58.7</text>
<text x="1639.5" y="79.3">8.8</text>
<text x="1698.2" y="79.3">1.1</text>
<text x="1463.3" y="132.6">7.7</text>
<text x="1522.0" y="132.6">30.8</text>
<text x="1580.7" y="132.6">61.5</text>
<text x="1522.0" y="185.9">25.0</text>
<text x="1580.7" y="185.9">60.0</text>
<text x="1639.5" y="185.9">15.0</text>
<text x="1287.1" y="239.1">0.4</text>
<text x="1345.8" y="239.1">0.7</text>
<text x="1404.6" y="239.1">1.1</text>
<text x="1463.3" y="239.1">4.2</text>
<text x="1522.0" y="239.1">3.2</text>
<text x="1580.7" y="239.1">12.7</text>
<text x="1639.5" y="239.1">48.1</text>
<text x="1698.2" y="239.1">29.7</text>
<text x="1287.1" y="292.4">7.7</text>
<text x="1463.3" y="292.4">61.5</text>
<text x="1522.0" y="292.4">15.4</text>
<text x="1580.7" y="292.4">7.7</text>
<text x="1639.5" y="292.4">7.7</text>
<text x="1522.0" y="345.7">5.0</text>
<text x="1580.7" y="345.7">25.0</text>
<text x="1639.5" y="345.7">65.0</text>
<text x="1698.2" y="345.7">5.0</text>
<text x="1228.4" y="399.0">0.4</text>
<text x="1404.6" y="399.0">2.5</text>
<text x="1463.3" y="399.0">3.2</text>
<text x="1522.0" y="399.0">19.1</text>
<text x="1580.7" y="399.0">51.9</text>
<text x="1639.5" y="399.0">21.6</text>
<text x="1698.2" y="399.0">1.4</text>
<text x="1404.6" y="452.3">38.5</text>
<text x="1463.3" y="452.3">38.5</text>
<text x="1522.0" y="452.3">15.4</text>
<text x="1580.7" y="452.3">7.7</text>
<text x="1463.3" y="505.5">5.0</text>
<text x="1522.0" y="505.5">45.0</text>
<text x="1580.7" y="505.5">40.0</text>
<text x="1639.5" y="505.5">5.0</text>
<text x="1698.2" y="505.5">5.0</text>
<text x="1228.4" y="558.8">1.1</text>
<text x="1287.1" y="558.8">2.1</text>
<text x="1345.8" y="558.8">0.4</text>
<text x="1404.6" y="558.8">0.4</text>
<text x="1522.0" y="558.8">3.5</text>
<text x="1580.7" y="558.8">22.6</text>
<text x="1639.5" y="558.8">59.7</text>
<text x="1698.2" y="558.8">9.9</text>
<text x="1756.9" y="558.8">0.4</text>
<text x="1228.4" y="612.1">7.7</text>
<text x="1522.0" y="612.1">46.2</text>
<text x="1580.7" y="612.1">46.2</text>
<text x="1522.0" y="665.4">5.0</text>
<text x="1580.7" y="665.4">90.0</text>
<text x="1698.2" y="665.4">5.0</text>
<text x="1463.3" y="718.7">0.4</text>
<text x="1522.0" y="718.7">12.7</text>
<text x="1580.7" y="718.7">52.7</text>
<text x="1639.5" y="718.7">21.6</text>
<text x="1698.2" y="718.7">6.0</text>
<text x="1756.9" y="718.7">3.2</text>
<text x="1815.7" y="718.7">0.7</text>
<text x="1874.4" y="718.7">0.7</text>
<text x="1933.1" y="718.7">1.4</text>
<text x="1991.9" y="718.7">0.7</text>
<text x="1463.3" y="771.9">7.7</text>
<text x="1580.7" y="771.9">15.4</text>
<text x="1639.5" y="771.9">38.5</text>
<text x="1698.2" y="771.9">38.5</text>
<text x="1522.0" y="825.2">10.0</text>
<text x="1580.7" y="825.2">55.0</text>
<text x="1639.5" y="825.2">10.0</text>
<text x="1698.2" y="825.2">10.0</text>
<text x="1874.4" y="825.2">5.0</text>
<text x="1933.1" y="825.2">5.0</text>
<text x="1991.9" y="825.2">5.0</text>
<text x="1228.4" y="878.5">51.6</text>
<text x="1287.1" y="878.5">27.6</text>
<text x="1345.8" y="878.5">11.0</text>
<text x="1404.6" y="878.5">3.2</text>
<text x="1463.3" y="878.5">2.8</text>
<text x="1522.0" y="878.5">1.1</text>
<text x="1580.7" y="878.5">0.4</text>
<text x="1639.5" y="878.5">1.1</text>
<text x="1698.2" y="878.5">1.4</text>
<text x="1228.4" y="931.8">7.7</text>
<text x="1287.1" y="931.8">30.8</text>
<text x="1345.8" y="931.8">53.8</text>
<text x="1404.6" y="931.8">7.7</text>
<text x="1228.4" y="985.1">5.0</text>
<text x="1287.1" y="985.1">25.0</text>
<text x="1345.8" y="985.1">50.0</text>
<text x="1463.3" y="985.1">5.0</text>
<text x="1522.0" y="985.1">5.0</text>
<text x="1639.5" y="985.1">5.0</text>
<text x="1698.2" y="985.1">5.0</text>
<text x="1287.1" y="1038.3">7.1</text>
<text x="1345.8" y="1038.3">22.3</text>
<text x="1404.6" y="1038.3">39.2</text>
<text x="1463.3" y="1038.3">26.1</text>
<text x="1522.0" y="1038.3">3.9</text>
<text x="1580.7" y="1038.3">1.4</text>
<text x="1287.1" y="1091.6">7.7</text>
<text x="1345.8" y="1091.6">15.4</text>
<text x="1404.6" y="1091.6">38.5</text>
<text x="1463.3" y="1091.6">38.5</text>
<text x="1345.8" y="1144.9">5.0</text>
<text x="1404.6" y="1144.9">30.0</text>
<text x="1463.3" y="1144.9">45.0</text>
<text x="1522.0" y="1144.9">10.0</text>
<text x="1580.7" y="1144.9">10.0</text>
<text x="1228.4" y="1198.2">6.0</text>
<text x="1287.1" y="1198.2">20.5</text>
<text x="1345.8" y="1198.2">41.7</text>
<text x="1404.6" y="1198.2">24.4</text>
<text x="1463.3" y="1198.2">3.5</text>
<text x="1522.0" y="1198.2">2.5</text>
<text x="1580.7" y="1198.2">0.7</text>
<text x="1639.5" y="1198.2">0.7</text>
<text x="1228.4" y="1251.5">7.7</text>
<text x="1287.1" y="1251.5">23.1</text>
<text x="1345.8" y="1251.5">30.8</text>
<text x="1404.6" y="1251.5">30.8</text>
<text x="1463.3" y="1251.5">7.7</text>
<text x="1345.8" y="1304.7">15.0</text>
<text x="1404.6" y="1304.7">35.0</text>
<text x="1463.3" y="1304.7">40.0</text>
<text x="1522.0" y="1304.7">5.0</text>
<text x="1580.7" y="1304.7">5.0</text>
<text x="1345.8" y="1358.0">4.2</text>
<text x="1404.6" y="1358.0">40.6</text>
<text x="1463.3" y="1358.0">29.3</text>
<text x="1522.0" y="1358.0">14.8</text>
<text x="1580.7" y="1358.0">4.6</text>
<text x="1639.5" y="1358.0">2.1</text>
<text x="1698.2" y="1358.0">0.4</text>
<text x="1756.9" y="1358.0">0.4</text>
<text x="1991.9" y="1358.0">3.5</text>
<text x="1345.8" y="1411.3">76.9</text>
<text x="1404.6" y="1411.3">7.7</text>
<text x="1522.0" y="1411.3">7.7</text>
<text x="1698.2" y="1411.3">7.7</text>
<text x="1345.8" y="1464.6">10.0</text>
<text x="1404.6" y="1464.6">20.0</text>
<text x="1463.3" y="1464.6">55.0</text>
<text x="1522.0" y="1464.6">10.0</text>
<text x="1698.2" y="1464.6">5.0</text>
</g>
<rect x="290.7" y="51.4" width="794.3" height="1432.7" fill="none" stroke="#000" stroke-width="4.2"/>
<rect x="1085.0" y="46.4" width="746.4" height="1439.2" fill="none" stroke="#000" stroke-width="4.2"/>
<text class="sp" text-anchor="end" x="179" y="84.8">C. parapsilosis</text>
<text class="sp" x="1922.3" y="80.1">C. parapsilosis</text>
<text class="sp" text-anchor="end" x="179" y="137.9">C. metapsilosis</text>
<text class="sp" x="1922.3" y="133.3">C. metapsilosis</text>
<text class="sp" text-anchor="end" x="179" y="190.9">C. orthopsilosis</text>
<text class="sp" x="1922.3" y="186.6">C. orthopsilosis</text>
<text class="sp" text-anchor="end" x="179" y="244.0">C. parapsilosis</text>
<text class="sp" x="1922.3" y="239.8">C. parapsilosis</text>
<text class="sp" text-anchor="end" x="179" y="297.1">C. metapsilosis</text>
<text class="sp" x="1922.3" y="293.1">C. metapsilosis</text>
<text class="sp" text-anchor="end" x="179" y="350.1">C. orthopsilosis</text>
<text class="sp" x="1922.3" y="346.4">C. orthopsilosis</text>
<text class="sp" text-anchor="end" x="179" y="403.2">C. parapsilosis</text>
<text class="sp" x="1922.3" y="399.6">C. parapsilosis</text>
<text class="sp" text-anchor="end" x="179" y="456.3">C. metapsilosis</text>
<text class="sp" x="1922.3" y="452.9">C. metapsilosis</text>
<text class="sp" text-anchor="end" x="179" y="509.3">C. orthopsilosis</text>
<text class="sp" x="1922.3" y="506.1">C. orthopsilosis</text>
<text class="sp" text-anchor="end" x="179" y="562.4">C. parapsilosis</text>
<text class="sp" x="1922.3" y="559.4">C. parapsilosis</text>
<text class="sp" text-anchor="end" x="179" y="615.4">C. metapsilosis</text>
<text class="sp" x="1922.3" y="612.6">C. metapsilosis</text>
<text class="sp" text-anchor="end" x="179" y="668.5">C. orthopsilosis</text>
<text class="sp" x="1922.3" y="665.9">C. orthopsilosis</text>
<text class="sp" text-anchor="end" x="179" y="721.6">C. parapsilosis</text>
<text class="sp" x="1922.3" y="719.1">C. parapsilosis</text>
<text class="sp" text-anchor="end" x="179" y="774.6">C. metapsilosis</text>
<text class="sp" x="1922.3" y="772.4">C. metapsilosis</text>
<text class="sp" text-anchor="end" x="179" y="827.7">C. orthopsilosis</text>
<text class="sp" x="1922.3" y="825.6">C. orthopsilosis</text>
<text class="sp" text-anchor="end" x="179" y="880.8">C. parapsilosis</text>
<text class="sp" x="1922.3" y="878.9">C. parapsilosis</text>
<text class="sp" text-anchor="end" x="179" y="933.8">C. metapsilosis</text>
<text class="sp" x="1922.3" y="932.1">C. metapsilosis</text>
<text class="sp" text-anchor="end" x="179" y="986.9">C. orthopsilosis</text>
<text class="sp" x="1922.3" y="985.4">C. orthopsilosis</text>
<text class="sp" text-anchor="end" x="179" y="1040.0">C. parapsilosis</text>
<text class="sp" x="1922.3" y="1038.6">C. parapsilosis</text>
<text class="sp" text-anchor="end" x="179" y="1093.0">C. metapsilosis</text>
<text class="sp" x="1922.3" y="1091.8">C. metapsilosis</text>
<text class="sp" text-anchor="end" x="179" y="1146.1">C. orthopsilosis</text>
<text class="sp" x="1922.3" y="1145.1">C. orthopsilosis</text>
<text class="sp" text-anchor="end" x="179" y="1199.2">C. parapsilosis</text>
<text class="sp" x="1922.3" y="1198.3">C. parapsilosis</text>
<text class="sp" text-anchor="end" x="179" y="1252.2">C. metapsilosis</text>
<text class="sp" x="1922.3" y="1251.6">C. metapsilosis</text>
<text class="sp" text-anchor="end" x="179" y="1305.3">C. orthopsilosis</text>
<text class="sp" x="1922.3" y="1304.8">C. orthopsilosis</text>
<text class="sp" text-anchor="end" x="179" y="1358.4">C. parapsilosis</text>
<text class="sp" x="1922.3" y="1358.1">C. parapsilosis</text>
<text class="sp" text-anchor="end" x="179" y="1411.4">C. metapsilosis</text>
<text class="sp" x="1922.3" y="1411.3">C. metapsilosis</text>
<text class="sp" text-anchor="end" x="179" y="1464.5">C. orthopsilosis</text>
<text class="sp" x="1922.3" y="1464.6">C. orthopsilosis</text>
<text class="ti" x="570.7" y="33.4">non-bloodstream</text>
<text class="ti" x="1368.8" y="25.7">bloodstream</text>
<text class="tk" transform="translate(324.2,1521.0) rotate(-45)">128</text>
<text class="tk" transform="translate(377.3,1521.0) rotate(-45)">64</text>
<text class="tk" transform="translate(430.3,1521.0) rotate(-45)">32</text>
<text class="tk" transform="translate(483.3,1521.0) rotate(-45)">16</text>
<text class="tk" transform="translate(536.4,1521.0) rotate(-45)">8</text>
<text class="tk" transform="translate(589.4,1521.0) rotate(-45)">4</text>
<text class="tk" transform="translate(642.5,1521.0) rotate(-45)">2</text>
<text class="tk" transform="translate(695.5,1521.0) rotate(-45)">1</text>
<text class="tk" transform="translate(748.5,1521.0) rotate(-45)">0.5</text>
<text class="tk" transform="translate(801.6,1521.0) rotate(-45)">0.25</text>
<text class="tk" transform="translate(854.6,1521.0) rotate(-45)">0.12</text>
<text class="tk" transform="translate(907.7,1521.0) rotate(-45)">0.06</text>
<text class="tk" transform="translate(960.7,1521.0) rotate(-45)">0.03</text>
<text class="tk" transform="translate(1013.7,1521.0) rotate(-45)">0.015</text>
<text class="tk" transform="translate(1066.8,1521.0) rotate(-45)">0.008</text>
<text class="tk" transform="translate(1119.1,1523.0) rotate(-45)">0.008</text>
<text class="tk" transform="translate(1172.2,1523.0) rotate(-45)">0.015</text>
<text class="tk" transform="translate(1225.4,1523.0) rotate(-45)">0.03</text>
<text class="tk" transform="translate(1278.5,1523.0) rotate(-45)">0.06</text>
<text class="tk" transform="translate(1331.7,1523.0) rotate(-45)">0.12</text>
<text class="tk" transform="translate(1384.8,1523.0) rotate(-45)">0.25</text>
<text class="tk" transform="translate(1438.0,1523.0) rotate(-45)">0.5</text>
<text class="tk" transform="translate(1491.1,1523.0) rotate(-45)">1</text>
<text class="tk" transform="translate(1544.3,1523.0) rotate(-45)">2</text>
<text class="tk" transform="translate(1597.4,1523.0) rotate(-45)">4</text>
<text class="tk" transform="translate(1650.6,1523.0) rotate(-45)">8</text>
<text class="tk" transform="translate(1703.7,1523.0) rotate(-45)">16</text>
<text class="tk" transform="translate(1756.9,1523.0) rotate(-45)">32</text>
<text class="tk" transform="translate(1810.0,1523.0) rotate(-45)">64</text>
<text class="ax" x="605.8" y="1594.4">MIC (mg/L)</text>
<text class="ax" x="1374.7" y="1596.9">MIC (mg/L)</text>
<rect x="2400.3" y="46.8" width="46.1" height="1437.7" fill="url(#cbg)" stroke="#000" stroke-width="4"/>
<path d="M2402.3 334.9h7M2444.4 334.9h-7" stroke="#000" stroke-width="3" fill="none"/>
<path d="M2402.3 622.5h7M2444.4 622.5h-7" stroke="#000" stroke-width="3" fill="none"/>
<path d="M2402.3 910.0h7M2444.4 910.0h-7" stroke="#000" stroke-width="3" fill="none"/>
<path d="M2402.3 1197.6h7M2444.4 1197.6h-7" stroke="#000" stroke-width="3" fill="none"/>
<text class="cb" x="2455.6" y="55.1">100</text>
<text class="cb" x="2455.6" y="342.6">80</text>
<text class="cb" x="2455.6" y="630.2">60</text>
<text class="cb" x="2455.6" y="917.7">40</text>
<text class="cb" x="2455.6" y="1205.3">20</text>
<text class="cb" x="2455.6" y="1492.8">0</text>
<text class="ba" x="2121.9" y="357.1">*</text>
<text class="ba" x="2111.3" y="409.6">***</text>
<text class="ba" x="2121.9" y="574.3">**</text>
<text class="ba" x="2120.2" y="737.6">***</text>
<text class="ba" x="2121.9" y="898.2">***</text>
<text class="ba" x="2121.9" y="1057.9">***</text>
<text class="ba" x="2120.2" y="1218.7">***</text>
<text class="ba" x="2121.9" y="1428.1">**</text>
<text class="ba" x="2121.9" y="1483.7">**</text>
<text class="ra" x="2235.0" y="287.6">***</text>
<text class="ra" x="2235.0" y="328.2">**</text>
<text class="ra" x="2237.1" y="431.2">***</text>
<text class="ra" x="2235.4" y="483.3">**</text>
<text class="ra" x="2235.0" y="589.6">***</text>
<text class="ra" x="2308.8" y="625.6">***</text>
<text class="ra" x="2234.4" y="758.6">*</text>
<text class="ra" x="2235.4" y="919.6">**</text>
<text class="ra" x="2300.9" y="965.1">***</text>
<text class="ra" x="2241.6" y="1109.1">**</text>
<text class="ra" x="2308.8" y="1271.6">***</text>
<text class="ra" x="2241.6" y="1292.3">**</text>
<text class="ra" x="2241.2" y="1396.9">***</text>
<text class="ra" x="2241.2" y="1448.6">**</text>
<path class="br" d="M2200.2 232.6H2221.7V336.5H2200.2M2200.2 285.2H2221.7"/>
<path class="br" d="M2203.0 392.2H2224.4V496.5H2203.0M2203.0 445.2H2224.4"/>
<path class="br" d="M2203.0 550.5H2224.4V601.8H2203.0"/>
<path class="br" d="M2283.2 550.5H2303.8V660.0H2283.2"/>
<path class="br" d="M2200.2 720.3H2221.7V771.2H2200.2"/>
<path class="br" d="M2203.0 881.3H2224.4V932.8H2203.0"/>
<path class="br" d="M2272.2 881.3H2291.3V991.0H2272.2"/>
<path class="br" d="M2213.0 1032.6H2232.7V1142.2H2213.0"/>
<path class="br" d="M2278.0 1195.2H2298.2V1304.7H2278.0"/>
<path class="br" d="M2210.3 1253.8H2232.7V1304.7H2210.3"/>
<path class="br" d="M2210.3 1357.7H2232.7V1461.4H2210.3M2210.3 1410.6H2232.7"/>
</svg></body></html>
